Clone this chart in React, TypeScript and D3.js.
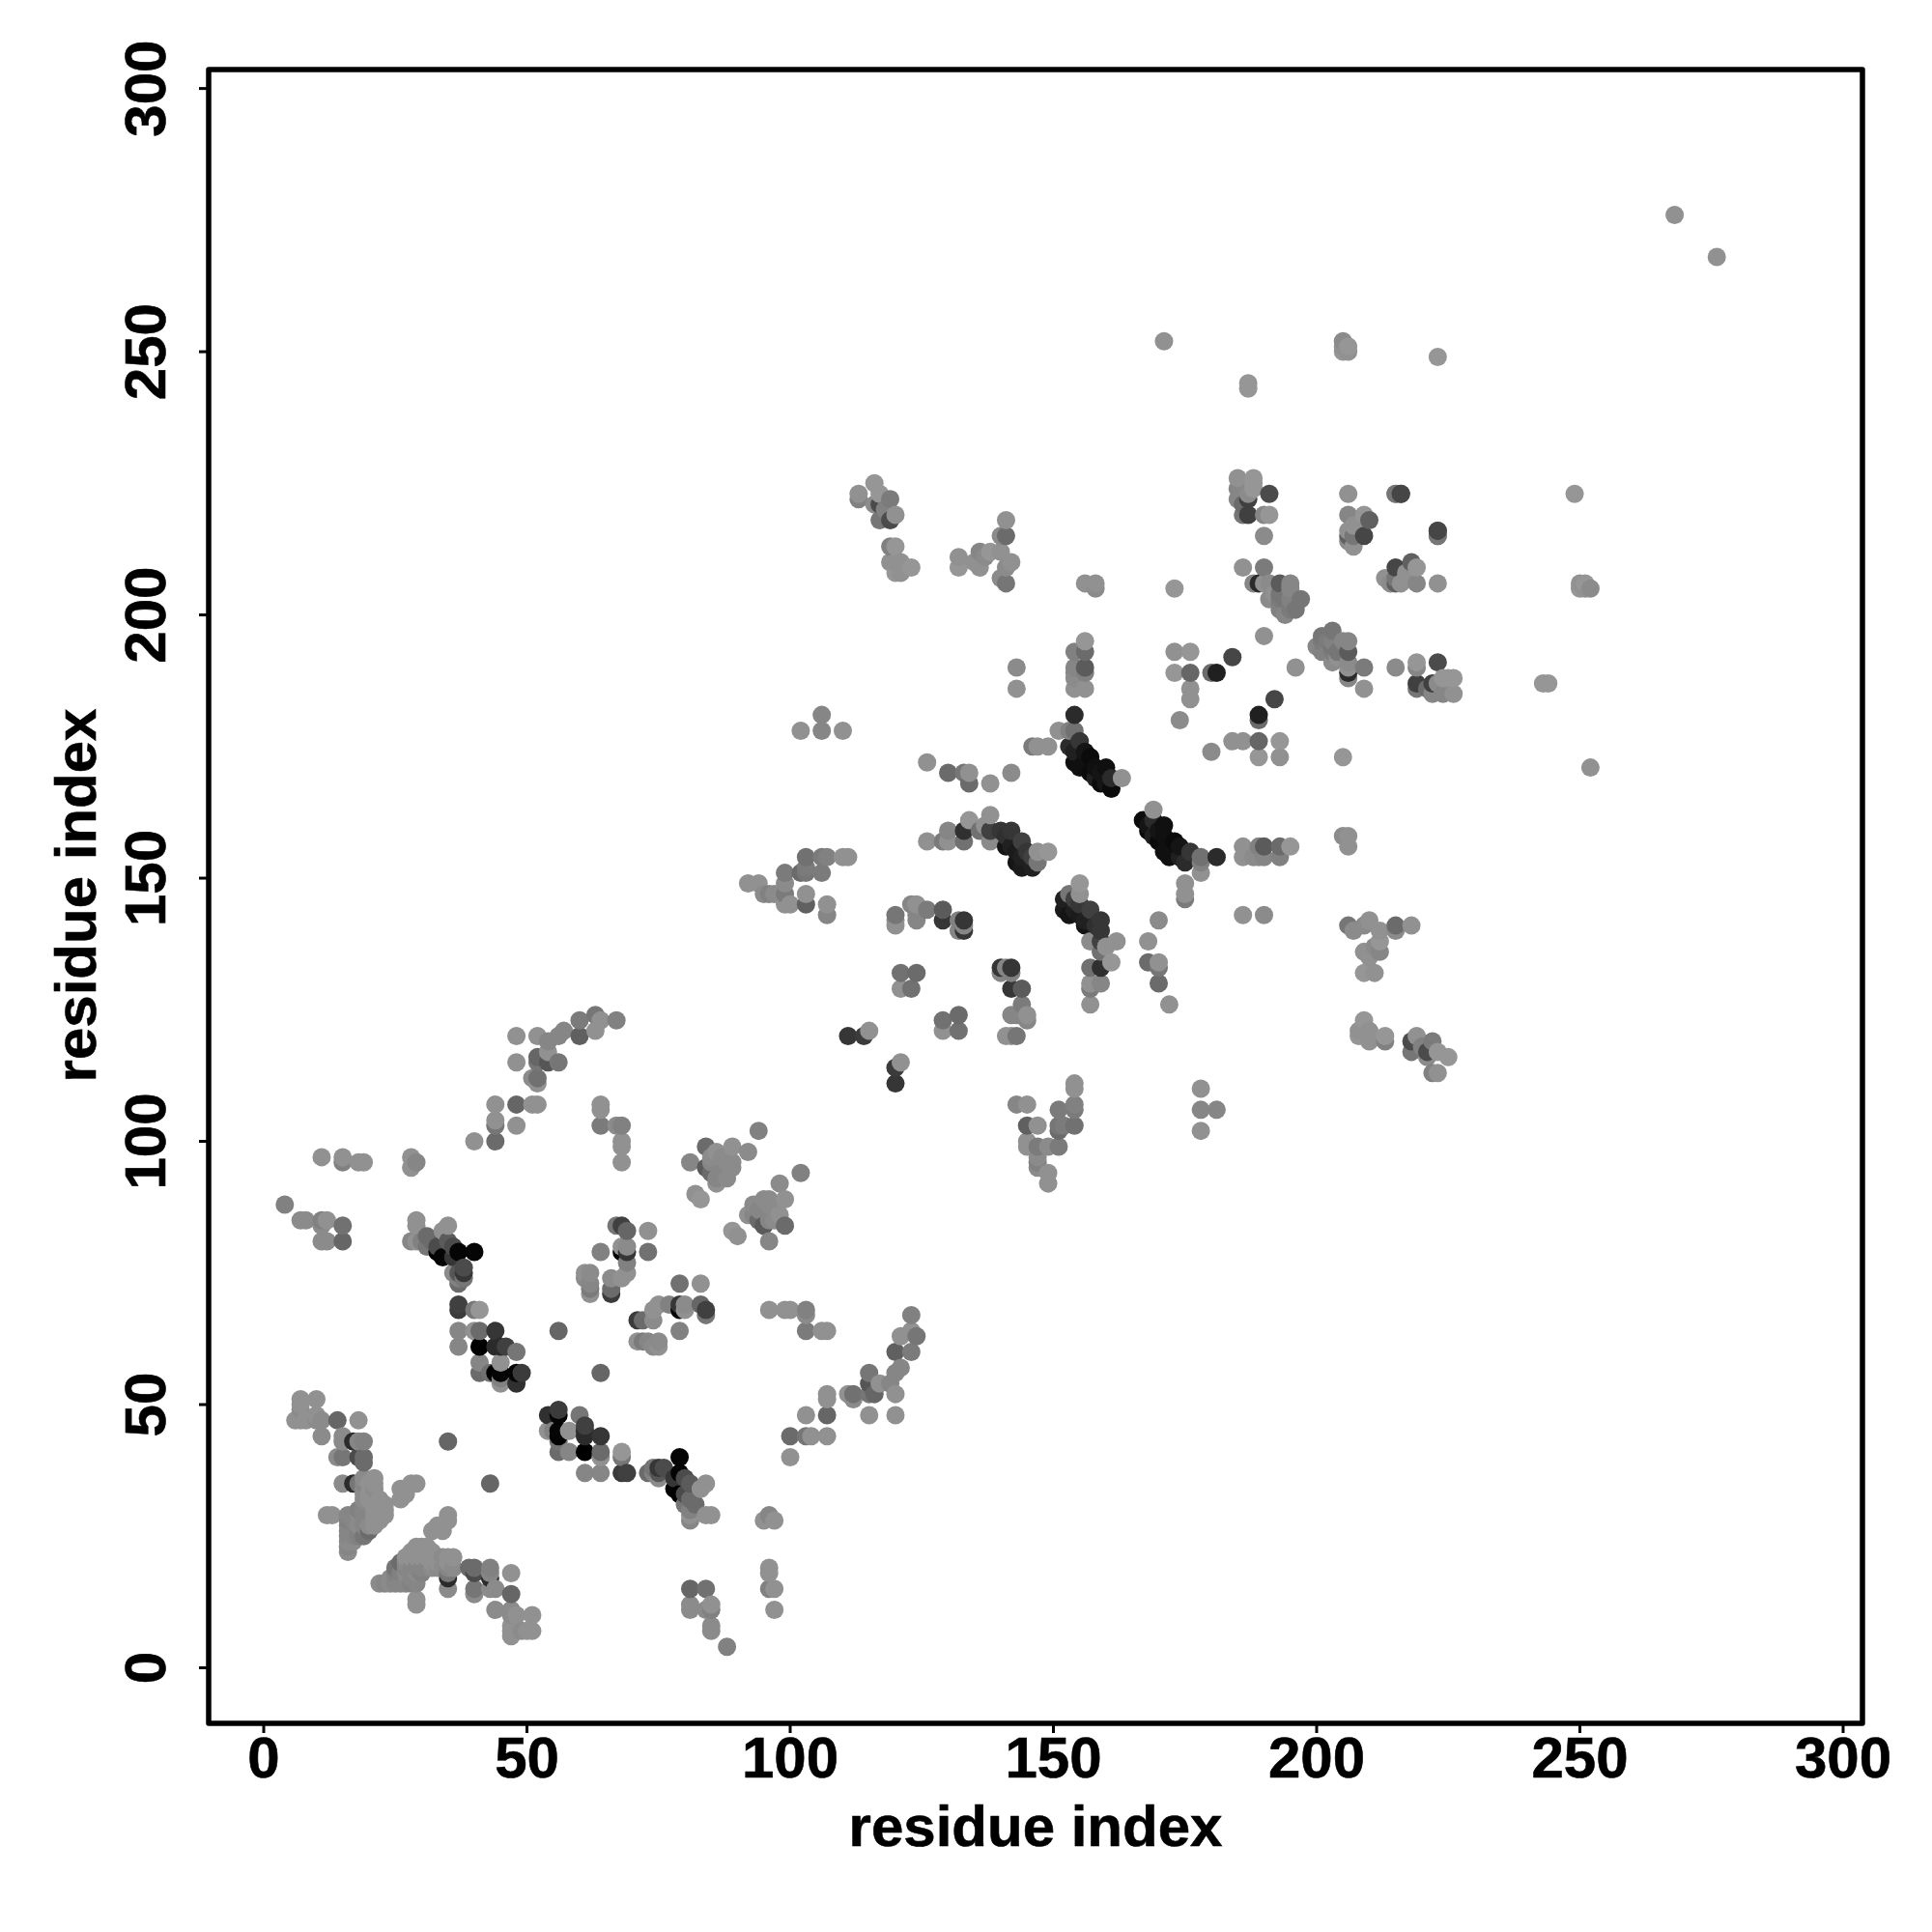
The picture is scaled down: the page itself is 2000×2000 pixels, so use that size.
import React from "react";
import * as d3 from "d3";

const xTicks = [0, 50, 100, 150, 200, 250, 300];
const yTicks = [0, 50, 100, 150, 200, 250, 300];
const axisTitle = "residue index";

// contact pairs [i, j, grey level], i < j; a contact map shows each pair on both sides of the diagonal
const farContacts = [[268,276,135],[171,252,135],[205,250,140],[206,250,135],[206,251,140],[205,251,135],[205,252,130],[223,249,140],[187,243,140],[187,244,140],[156,206,135],[158,206,135],[158,205,130],[173,205,140],[190,196,135],[143,186,135],[143,190,130]];

const block113 = [[113,222,120],[113,223,135],[116,225,140],[117,223,140],[116,221,130],[117,221,70],[119,222,115],[117,218,110],[119,218,70],[120,219,135],[118,220,120],[119,213,120],[120,213,140],[119,210,135],[120,210,135],[120,208,140],[121,208,135],[123,209,140],[121,210,135]];

const block132 = [[132,211,135],[132,209,140],[136,212,125],[136,209,135],[137,211,130],[138,212,140],[140,212,135],[140,215,130],[141,215,100],[141,218,135],[142,210,135],[141,206,110],[140,207,130],[141,209,130],[135,210,135]];

const block185 = [[185,226,135],[188,226,140],[185,224,125],[185,222,125],[188,224,140],[187,222,60],[186,221,100],[186,219,110],[187,219,60],[191,223,70],[190,219,125],[191,219,140],[190,215,130],[187,223,130],[188,225,140]];

const block206 = [[206,223,135],[215,223,125],[216,223,70],[206,219,125],[209,219,140],[210,218,90],[206,216,135],[206,215,90],[207,215,110],[209,215,65],[207,213,135],[206,214,130],[208,217,135],[207,217,135],[223,216,65],[223,215,110]];

const block186 = [[186,209,135],[190,209,115],[188,206,125],[189,206,40],[191,206,130],[193,206,85],[195,206,125],[195,205,125],[191,203,130],[193,204,110],[193,203,115],[193,202,120],[193,201,120],[194,200,125],[195,202,115],[197,203,110],[196,201,110],[195,203,120],[192,204,135],[194,203,110],[195,201,115],[190,206,135]];

const block173 = [[173,193,135],[176,193,140],[173,189,140],[176,189,95],[176,186,135],[176,184,135],[174,180,130],[180,189,100],[181,189,30],[184,192,65]];

const column154 = [[156,195,140],[154,193,120],[156,193,100],[154,190,125],[156,190,85],[154,189,130],[156,189,120],[154,188,130],[154,186,135],[156,186,135],[154,181,40]];

const band153 = [[146,175,115],[147,175,135],[149,175,135],[151,178,135],[153,178,120],[154,178,105],[153,175,40],[155,176,50],[154,174,30],[154,172,15],[157,173,10],[156,174,20],[155,171,15],[157,170,10],[158,171,15],[160,171,15],[159,168,10],[158,169,30],[161,169,40],[161,167,10],[160,168,20],[163,169,135],[156,172,15],[159,170,20]];

const band126 = [[126,172,135],[130,170,100],[133,170,110],[134,170,135],[134,168,100],[138,168,135],[142,170,130],[126,157,135],[129,157,115],[130,157,135],[130,159,125],[133,159,45],[133,157,105],[134,161,140],[136,159,105],[138,162,135],[137,160,135],[138,159,60],[138,157,130],[140,159,50],[142,159,50],[141,158,45],[144,157,60],[142,156,30],[141,156,20],[143,155,25],[143,153,20],[144,154,30],[144,152,25],[146,154,60],[145,155,50],[147,155,135],[149,155,140],[147,153,110],[146,152,30]];

const block120 = [[120,143,110],[120,142,135],[120,141,135],[123,145,125],[124,145,135],[124,143,125],[124,142,125],[126,144,115],[129,144,85],[129,142,50],[132,142,120],[133,142,50],[133,141,125],[132,140,125],[133,140,50],[121,132,105],[124,132,100],[121,129,135],[123,129,105],[111,120,50],[114,120,55],[115,121,135]];

const block92 = [[92,149,135],[94,149,135],[96,147,120],[95,147,130],[97,147,130],[99,151,115],[99,149,130],[99,147,115],[100,145,135],[99,145,135],[102,151,100],[103,154,105],[106,154,115],[107,154,120],[110,154,135],[111,154,135],[103,152,115],[103,151,110],[106,151,115],[103,147,135],[103,145,90],[107,145,135],[107,143,125],[102,178,135],[106,178,125],[106,181,125],[110,178,135]];

const block4 = [[4,88,120],[7,85,130],[8,85,130],[11,85,120],[12,85,135],[11,84,130],[15,84,105],[11,81,130],[12,81,130],[15,81,95],[11,97,135],[15,97,135],[15,96,120],[18,96,135],[19,96,135],[28,97,135],[28,95,135],[29,96,125]];

const band28 = [[29,85,135],[29,84,135],[28,81,125],[29,81,135],[30,81,120],[31,82,100],[31,80,110],[32,81,100],[33,80,70],[33,79,0],[34,78,5],[34,83,135],[35,84,135],[35,81,85],[36,80,70],[37,79,5],[40,79,5],[36,78,50],[38,76,70],[37,75,80],[38,75,50],[36,75,130],[37,74,120],[38,74,110],[37,73,100]];

const band37 = [[48,54,45],[49,56,55],[45,54,135],[45,56,5],[43,56,105],[41,56,100],[41,58,125],[45,58,135],[44,56,0],[48,56,5],[45,55,120],[41,61,0],[37,61,125],[44,61,40],[45,61,40],[46,61,60],[48,60,110],[37,64,125],[40,64,135],[41,64,100],[44,64,50],[37,68,55],[37,69,60],[40,68,110],[41,68,140],[56,64,95],[35,43,95]];

const arm40 = [[48,120,135],[52,120,135],[54,119,125],[56,120,125],[57,121,125],[60,123,115],[60,120,90],[63,124,110],[63,121,135],[64,123,135],[67,123,120],[54,117,135],[52,116,95],[52,115,110],[54,115,80],[56,115,110],[48,115,135],[51,112,130],[52,112,105],[52,111,135],[51,107,135],[52,107,135],[48,107,95],[44,107,135],[44,104,135],[44,103,110],[48,103,135],[40,100,135],[44,100,100],[64,107,135],[64,106,135],[64,103,115],[67,103,130],[68,103,120],[68,100,135],[68,99,135],[68,96,135]];

const block61 = [[67,84,110],[68,84,60],[69,83,95],[73,83,135],[64,79,120],[69,80,130],[68,79,5],[68,80,135],[69,79,50],[73,79,105],[69,77,120],[69,75,135],[68,74,135],[66,74,130],[66,72,100],[66,71,55],[61,75,135],[62,75,130],[61,74,130],[62,73,125],[62,72,115],[62,71,135]];

const block81 = [[84,99,100],[81,96,125],[86,98,135],[89,99,135],[92,98,130],[94,102,120],[85,97,130],[87,97,130],[89,96,130],[86,92,135],[82,90,135],[83,89,140],[84,95,85],[85,94,100],[86,93,125],[89,95,130],[88,93,130],[87,94,125],[85,96,125],[88,96,130]];

const block6 = [[7,51,135],[10,51,135],[7,50,135],[6,47,135],[7,47,135],[8,47,135],[7,49,130],[10,48,135],[10,47,130],[11,47,130],[14,47,95],[18,47,135],[11,44,130],[15,44,130],[15,43,130],[17,43,40],[18,43,125],[19,43,120],[14,40,130],[15,40,110],[18,40,70],[19,40,100],[19,39,100]];

const wing12 = [[15,35,130],[18,35,110],[17,35,40],[19,36,130],[19,35,125],[21,36,135],[21,35,135],[20,35,135],[21,34,130],[19,34,130],[19,33,130],[20,33,135],[19,32,130],[20,32,135],[21,32,135],[22,32,135],[21,31,135],[23,31,135],[19,31,125],[22,31,135],[23,30,135],[21,30,135],[19,30,125],[18,30,120],[12,29,135],[13,29,135],[16,29,125],[17,29,125],[18,29,130],[19,29,125],[21,29,135],[22,29,135],[23,29,135],[16,28,120],[17,28,125],[19,28,125],[21,28,135],[22,28,135],[16,27,125],[18,27,130],[19,27,125],[20,27,130],[21,27,135],[16,26,125],[18,26,120],[20,26,100],[16,25,125],[17,25,125],[18,25,120],[19,25,110],[16,24,130],[17,24,130],[16,23,125],[16,22,130],[26,34,135],[28,35,135],[29,35,135],[26,32,135],[27,33,135]];

const allContacts = [farContacts, block113, block132, block185, block206, block186, block173, column154, band153, band126, block120, block92, block4, band28, band37, arm40, block61, block81, block6, wing12].flat();

const x = d3.scaleLinear().domain([-10.46, 303.67]).range([216, 1928]);
const y = d3.scaleLinear().domain([-10.55, 303.6]).range([1784, 72]);
const shade = d3.scaleLinear().domain([0, 140]).range([0, 150]);

const marks = allContacts
  .flatMap(([i, j, g]) => [{ a: i, b: j, g }, { a: j, b: i, g }])
  .sort((p, q) => d3.ascending(p.a, q.a) || d3.ascending(p.b, q.b));

const font = "'Liberation Sans', Arimo, Helvetica, Arial, sans-serif";

export default function App() {
  return (
    <svg width={2000} height={2000} style={{ position: "absolute", left: 0, top: 0, background: "#fff" }} fontFamily={font} fontWeight="bold" fontSize={60}>
      {marks.map((m, k) => {
        const v = Math.round(shade(m.g));
        return <circle key={k} cx={x(m.a)} cy={y(m.b)} r={9.5} fill={d3.rgb(v, v, v).formatHex()} />;
      })}
      <rect x={216} y={72} width={1712} height={1712} fill="none" stroke="#000" strokeWidth={5.5} strokeLinejoin="round" />
      {xTicks.map((t) => (
        <g key={t}>
          <line x1={x(t)} x2={x(t)} y1={1784} y2={1794} stroke="#000" strokeWidth={3} />
          <text x={x(t)} y={1840} textAnchor="middle" stroke="#000" strokeWidth={0.6}>{t}</text>
        </g>
      ))}
      {yTicks.map((t) => (
        <g key={t}>
          <line x1={206} x2={216} y1={y(t)} y2={y(t)} stroke="#000" strokeWidth={3} />
          <text transform={`translate(171,${y(t)}) rotate(-90)`} textAnchor="middle" stroke="#000" strokeWidth={0.6}>{t}</text>
        </g>
      ))}
      <text x={1072} y={1911} textAnchor="middle" stroke="#000" strokeWidth={0.6}>{axisTitle}</text>
      <text transform="translate(99,927) rotate(-90)" textAnchor="middle" stroke="#000" strokeWidth={0.6}>{axisTitle}</text>
    </svg>
  );
}
